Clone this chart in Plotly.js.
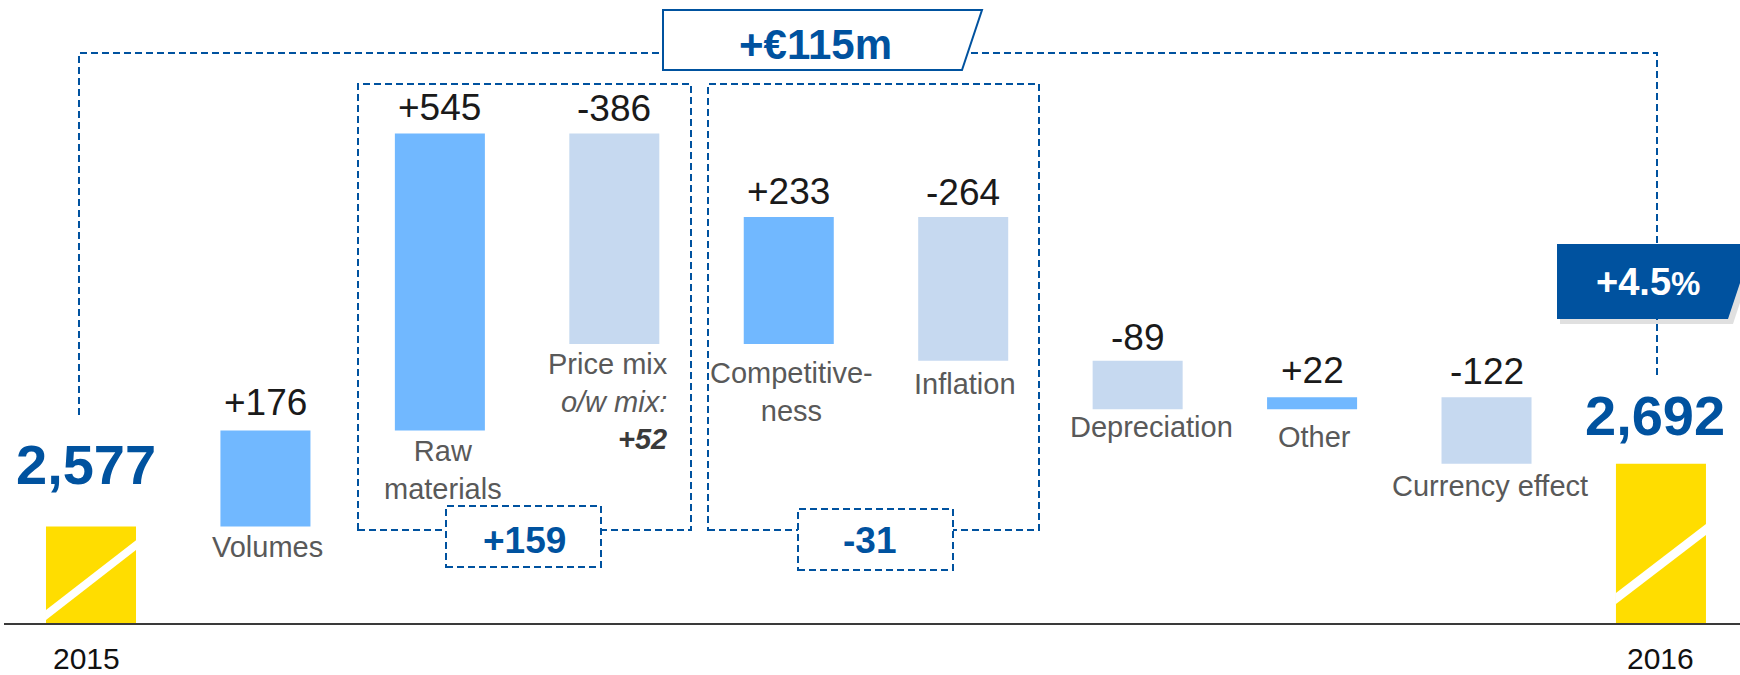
<!DOCTYPE html>
<html>
<head>
<meta charset="utf-8">
<script src="https://cdn.plot.ly/plotly-3.0.1.min.js"></script>
<style>
html,body{margin:0;padding:0;background:#fff;}
#chart{width:1740px;height:675px;}
</style>
</head>
<body>
<div id="chart"></div>
<script>
// ---------------- DATA ----------------
const categories = ['2015', 'Volumes', 'Raw materials', 'Price mix', 'Competitiveness',
                    'Inflation', 'Depreciation', 'Other', 'Currency effect', '2016'];
const values = [2577, 176, 545, -386, 233, -264, -89, 22, -122, 2692];
const measures = ['absolute', 'relative', 'relative', 'relative', 'relative',
                  'relative', 'relative', 'relative', 'relative', 'total'];
const categoryLabels = ['', 'Volumes', 'Raw<br>materials', 'Price mix', 'Competitive-<br>ness',
                        'Inflation', 'Depreciation', 'Other', 'Currency effect', ''];
const yearLabels = ['2015', '2016'];
const mixValue = 52;
const groups = [[2, 3], [4, 5]];   // Raw materials + Price mix ; Competitiveness + Inflation

// ---------------- STYLE / GEOMETRY ----------------
const FONT = 'Liberation Sans, Arial, sans-serif';
const BLUE = '#00529F';
const INC = '#71B8FF', DEC = '#C6D9F0', TOT = '#FFDD00';
const W = 1740, H = 675, ML = 4, MB = 52;
const plotW = W - ML, plotH = H - MB;          // plot area 4..1740 x 0..623
const catPx = 174.44, cat0Px = 91;             // pixel spacing of categories
const yMin = 2400, pxPerUnit = 0.545;
const xRange = [(ML - cat0Px) / catPx, (W - cat0Px) / catPx];
const yRange = [yMin, yMin + plotH / pxPerUnit];
const px = p => (p - ML) / plotW;               // pixel -> paper x
const py = p => (plotH - p) / plotH;            // pixel -> paper y

const VAL_SIZE = 37, LAB_SIZE = 29, TOT_SIZE = 56;

// running sums
const starts = [], ends = [];
let run = 0;
values.forEach((v, i) => {
  if (measures[i] === 'absolute') { starts.push(0); run = v; ends.push(v); }
  else if (measures[i] === 'total') { starts.push(0); ends.push(run); }
  else { starts.push(run); run += v; ends.push(run); }
});
const fmtSigned = v => (v > 0 ? '+' : '') + v;
const fmtTotal = v => v.toLocaleString('en-US');

// ---------------- TRACE ----------------
const trace = {
  type: 'waterfall',
  x: categories,
  y: values,
  measure: measures,
  width: 0.516,
  textinfo: 'none',
  hoverinfo: 'skip',
  connector: {visible: false},
  increasing: {marker: {color: INC, line: {width: 0}}},
  decreasing: {marker: {color: DEC, line: {width: 0}}},
  totals: {marker: {color: TOT, line: {width: 0}}},
  showlegend: false
};

// ---------------- ANNOTATIONS ----------------
const annotations = [];
const valGap = [0, 15, 13.3, 12.3, 13, 12, 10.3, 14.7, 13, 0];   // px: bar top -> text baseline
const labGap = [0, 10, 10, 10, 18.6, 13, 7, 16.7, 12, 0];        // px: bar bottom -> cap top
const labDx  = [0, 2, 3, 55.5, 3, 2, 14, 2, 3, 0];

for (let i = 1; i < categories.length - 1; i++) {
  const top = Math.max(starts[i], ends[i]);
  const bot = Math.min(starts[i], ends[i]);
  annotations.push({
    x: i, y: top, xref: 'x', yref: 'y',
    text: fmtSigned(values[i]), showarrow: false,
    xanchor: 'center', yanchor: 'bottom', yshift: valGap[i] - (2 + 0.212 * VAL_SIZE),
    font: {family: FONT, size: VAL_SIZE, color: '#1A1A1A'}
  });
  let txt = categoryLabels[i];
  let xanchor = 'center', align = 'center';
  if (categories[i] === 'Price mix') {
    txt = 'Price mix<br><i>o/w mix:</i><br><span style="color:#3A3A3A"><b><i>' +
          fmtSigned(mixValue) + '</i></b></span>';
    xanchor = 'right'; align = 'right';
  }
  annotations.push({
    x: i, y: bot, xref: 'x', yref: 'y',
    text: txt, showarrow: false, align: align,
    xanchor: xanchor, yanchor: 'top', xshift: labDx[i],
    yshift: -(labGap[i] - (2 + 0.189 * LAB_SIZE)),
    font: {family: FONT, size: LAB_SIZE, color: '#595959'}
  });
}
// start / end totals
const totIdx = [0, categories.length - 1];
const totShift = [[-5.5, 42], [-6, 29]];
totIdx.forEach((i, k) => {
  annotations.push({
    x: i, y: ends[i], xref: 'x', yref: 'y',
    text: '<b>' + fmtTotal(ends[i]) + '</b>', showarrow: false,
    xanchor: 'center', yanchor: 'bottom', xshift: totShift[k][0],
    yshift: totShift[k][1] - (2 + 0.212 * TOT_SIZE),
    font: {family: FONT, size: TOT_SIZE, color: BLUE}
  });
  annotations.push({
    x: i, y: py(674.5), xref: 'x', yref: 'paper',
    text: yearLabels[k], showarrow: false, borderpad: 0, borderwidth: 0,
    xanchor: 'center', yanchor: 'bottom', xshift: k === 0 ? -5 : 0,
    font: {family: FONT, size: 30, color: '#111111'}
  });
});

// group subtotals
const g1 = values[groups[0][0]] + values[groups[0][1]];
const g2 = values[groups[1][0]] + values[groups[1][1]];
const totalDelta = ends[categories.length - 1] - ends[0];
const pct = (totalDelta / ends[0] * 100).toFixed(1);

annotations.push({x: px(524.5), y: py(540.2), xref: 'paper', yref: 'paper',
  text: '<b>' + fmtSigned(g1) + '</b>', showarrow: false, xanchor: 'center', yanchor: 'middle',
  font: {family: FONT, size: 37, color: BLUE}});
annotations.push({x: px(869), y: py(540.8), xref: 'paper', yref: 'paper',
  text: '<b>' + fmtSigned(g2) + '</b>', showarrow: false, xanchor: 'center', yanchor: 'middle',
  font: {family: FONT, size: 37, color: BLUE}});
annotations.push({x: px(815), y: py(44.4), xref: 'paper', yref: 'paper',
  text: '<b>+€' + totalDelta + 'm</b>', showarrow: false, xanchor: 'center', yanchor: 'middle',
  font: {family: FONT, size: 42, color: BLUE}});
annotations.push({x: px(1648), y: py(281.8), xref: 'paper', yref: 'paper',
  text: '<b>+' + pct + '<span style="font-size:33px">%</span></b>', showarrow: false,
  xanchor: 'center', yanchor: 'middle',
  font: {family: FONT, size: 38, color: '#FFFFFF'}});

// ---------------- SHAPES ----------------
const pathOf = pts => pts.map((p, i) => (i ? 'L' : 'M') + px(p[0]).toFixed(5) + ',' + py(p[1]).toFixed(5)).join(' ') ;
const DASH = '7px,4px';
const shapes = [];

// broken-axis stripes on the start / end bars (in data units above axis minimum)
const half = 0.258;
const stripes = [
  {i: 0, yl: [5.5, 23.9], yr: [134, 152]},
  {i: 9, yl: [35, 55], yr: [161.5, 181.7]}
];
stripes.forEach(s => {
  const xl = s.i - half, xr = s.i + half;
  shapes.push({type: 'path', xref: 'x', yref: 'y', layer: 'above',
    path: `M${xl},${yMin + s.yl[0]} L${xr},${yMin + s.yr[0]} L${xr},${yMin + s.yr[1]} L${xl},${yMin + s.yl[1]} Z`,
    fillcolor: '#FFFFFF', line: {width: 0}});
});

// +4.5% badge shadow + badge
shapes.push({type: 'path', xref: 'paper', yref: 'paper', layer: 'above',
  path: pathOf([[1560, 248], [1758, 248], [1733, 324], [1560, 324]]) + ' Z',
  fillcolor: 'rgba(0,0,0,0.12)', line: {width: 0}});
shapes.push({type: 'path', xref: 'paper', yref: 'paper', layer: 'above',
  path: pathOf([[1557, 244], [1753, 244], [1728, 319], [1557, 319]]) + ' Z',
  fillcolor: BLUE, line: {width: 0}});

// outer bracket
shapes.push({type: 'path', xref: 'paper', yref: 'paper', layer: 'above',
  path: pathOf([[79, 415], [79, 53], [1657, 53], [1657, 375]]),
  line: {color: BLUE, width: 2, dash: DASH}});
// +€115m box
shapes.push({type: 'path', xref: 'paper', yref: 'paper', layer: 'above',
  path: pathOf([[663, 10], [982, 10], [962, 70], [663, 70]]) + ' Z',
  fillcolor: '#FFFFFF', line: {color: BLUE, width: 2}});

// group brackets
[[358, 691], [708, 1039]].forEach(g => {
  shapes.push({type: 'rect', xref: 'paper', yref: 'paper', layer: 'above',
    x0: px(g[0]), x1: px(g[1]), y0: py(530), y1: py(84),
    fillcolor: 'rgba(0,0,0,0)', line: {color: BLUE, width: 2, dash: DASH}});
});
// subtotal boxes
[[446, 601, 506, 567], [798, 953, 509, 570]].forEach(b => {
  shapes.push({type: 'rect', xref: 'paper', yref: 'paper', layer: 'above',
    x0: px(b[0]), x1: px(b[1]), y0: py(b[3]), y1: py(b[2]),
    fillcolor: '#FFFFFF', line: {color: BLUE, width: 2, dash: DASH}});
});

// ---------------- LAYOUT ----------------
const layout = {
  width: W, height: H,
  margin: {l: ML, r: 0, t: 0, b: MB, pad: 0},
  paper_bgcolor: '#FFFFFF', plot_bgcolor: '#FFFFFF',
  showlegend: false,
  font: {family: FONT},
  xaxis: {type: 'category', range: xRange, showticklabels: false, ticks: '',
          showgrid: false, zeroline: false, showline: true, linecolor: '#3A3A3A', linewidth: 1.5,
          fixedrange: true},
  yaxis: {range: yRange, showticklabels: false, ticks: '', showgrid: false,
          zeroline: false, showline: false, fixedrange: true},
  annotations: annotations,
  shapes: shapes
};

Plotly.newPlot('chart', [trace], layout, {displayModeBar: false, staticPlot: true});
</script>
</body>
</html>
